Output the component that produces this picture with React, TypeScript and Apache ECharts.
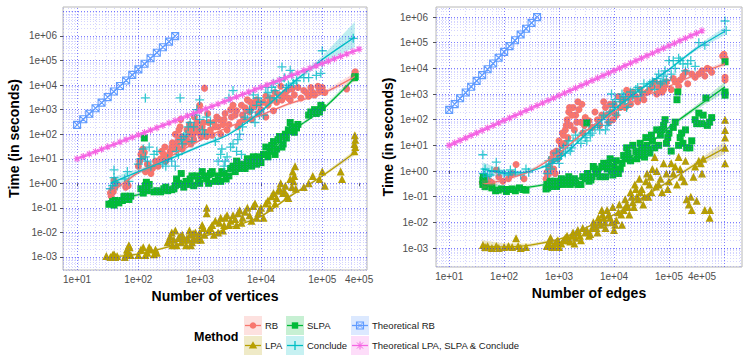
import React, { useEffect, useRef } from "react";
import * as echarts from "echarts";

type P = [number, number];
type F = [number, number, number, number]; // x, fit, lower, upper

const COLORS = {
  RB: "#F8766D",
  LPA: "#B79F00",
  SLPA: "#00BA38",
  Conclude: "#00BFC4",
  TRB: "#619CFF",
  TLPA: "#F564E3",
};

const xTickValues = [10, 100, 1000, 10000, 100000, 400000];
const yTickValues = [0.001, 0.01, 0.1, 1, 10, 100, 1000, 10000, 100000, 1000000];

const legendLabels = ["RB", "SLPA", "Theoretical RB", "LPA", "Conclude", "Theoretical LPA, SLPA & Conclude"];

const theoreticalRb: P[] = [
  [10, 240], [12.6, 404], [15.8, 679], [20, 1143], [25.1, 1923], [31.6, 3236], [39.8, 5445], [50.1, 9162],
  [63.1, 15420], [79.4, 25940], [100, 43650], [126, 73450], [158, 123600], [200, 208000], [251, 349900],
  [316, 588800], [398, 990800],
];

const theoreticalLpa: P[] = [
  [10, 10], [12.6, 12.5], [15.8, 15.6], [20, 19.5], [25.1, 24.4], [31.6, 30.5], [39.8, 38.2], [50.1, 47.8],
  [63.1, 59.7], [79.4, 74.6], [100, 93.3], [126, 116.7], [158, 145.9], [200, 182.4], [251, 228], [316, 285],
  [398, 356], [501, 446], [631, 557], [794, 697], [1000, 871], [1259, 1089], [1585, 1361], [1995, 1702],
  [2512, 2128], [3162, 2661], [3981, 3327], [5012, 4159], [6310, 5200], [7943, 6501], [10000, 8128],
  [12590, 10160], [15850, 12710], [19950, 15890], [25120, 19860], [31620, 24830], [39810, 31050],
  [50120, 38820], [63100, 48530], [79430, 60670], [100000, 75860], [125900, 94840], [158500, 118600],
  [199500, 148300], [251200, 185400], [316200, 231700], [398100, 289700],
];

// ---------- Number of vertices panel ----------
const rbVertices: P[] = [
  [35, 0.4], [36, 0.3], [37, 0.55], [39, 0.45], [40, 1.3], [41, 0.7], [42, 1.0], [45, 0.9], [62, 0.7], [65, 1.0], [68, 0.8],
  [100, 5], [105, 8], [110, 15], [115, 20], [118, 25], [120, 12], [125, 18], [130, 3], [140, 6], [150, 3.5], [160, 2.5], [170, 4],
  [190, 8], [210, 5], [230, 10], [240, 20], [260, 15], [270, 30], [280, 8], [300, 12], [320, 15], [330, 20], [350, 30],
  [360, 45], [380, 25], [400, 100], [420, 40], [430, 30], [450, 60], [460, 150], [480, 200],
  [490, 400], [500, 80], [520, 25], [550, 40], [600, 70], [620, 150], [650, 50], [680, 250], [700, 100], [720, 40],
  [750, 150], [780, 90], [800, 60], [820, 500], [850, 200], [880, 150],
  [900, 300], [950, 120], [1000, 1000], [1000, 1500], [1050, 80], [1100, 200], [1150, 300], [1200, 7500], [1250, 120],
  [1300, 80], [1350, 700], [1400, 300], [1500, 150], [1600, 90], [1700, 300], [1800, 200], [1900, 500], [2000, 200],
  [2100, 400], [2200, 100], [2400, 250], [2500, 400], [2600, 700], [2800, 150],
  [3000, 250], [3200, 1000], [3300, 500], [3500, 1500], [3800, 600], [4000, 900], [4200, 200], [4500, 300],
  [4800, 1500], [5000, 600], [5200, 400], [5500, 1200], [5800, 900],
  [6000, 2500], [6500, 800], [6800, 2000], [7000, 400], [7200, 1200], [7500, 1800], [8000, 1500], [8500, 2500],
  [9000, 700], [9500, 1800], [10000, 1000], [11000, 2000],
  [12000, 500], [12000, 3500], [13000, 1500], [14000, 2200], [15000, 3000], [16000, 900], [17000, 5000],
  [18000, 2000], [20000, 4000], [21000, 9000], [22000, 2500], [24000, 3500], [25000, 5000], [27000, 6000],
  [28000, 3000], [30000, 2500], [32000, 7000], [35000, 4000], [40000, 8000], [45000, 3000], [50000, 6000],
  [55000, 5000], [60000, 3500], [65000, 8000], [70000, 5000], [75000, 4000], [85000, 9000], [90000, 6000],
  [100000, 8000], [110000, 5000], [250000, 7000], [330000, 20000], [340000, 30000], [345000, 35000],
];

const lpaVertices: P[] = [
  [30, 0.0011], [35, 0.001], [38, 0.0012], [40, 0.0013], [42, 0.001], [45, 0.0011], [60, 0.001], [62, 0.0012],
  [65, 0.002], [68, 0.0015], [70, 0.003], [72, 0.0025], [75, 0.0012], [100, 0.0012], [110, 0.002], [120, 0.0025],
  [130, 0.0012], [140, 0.0015], [150, 0.0025], [160, 0.002], [180, 0.0013], [190, 0.002], [200, 0.0015],
  [300, 0.004], [320, 0.005], [330, 0.007], [350, 0.01], [360, 0.003], [380, 0.005], [400, 0.012], [420, 0.003],
  [450, 0.006], [480, 0.007], [500, 0.004], [520, 0.008], [550, 0.005], [600, 0.003], [620, 0.006], [650, 0.005],
  [680, 0.012], [700, 0.008], [720, 0.003], [750, 0.004], [780, 0.009], [800, 0.006], [850, 0.01], [900, 0.005],
  [950, 0.007], [1000, 0.01], [1050, 0.005], [1100, 0.02], [1150, 0.015], [1200, 0.008], [1300, 0.1],
  [1300, 0.06], [1400, 0.012], [1500, 0.015], [1600, 0.02], [1700, 0.008], [1800, 0.03], [2000, 0.01],
  [2100, 0.025], [2200, 0.04], [2400, 0.012], [2500, 0.02], [2600, 0.04], [2800, 0.05], [3000, 0.02],
  [3200, 0.03], [3500, 0.05], [3800, 0.035], [4000, 0.02], [4200, 0.06], [4500, 0.08], [4800, 0.025],
  [5000, 0.04], [5500, 0.07], [6000, 0.1], [6500, 0.05], [7000, 0.03], [7500, 0.12], [8000, 0.15],
  [8500, 0.04], [9000, 0.06], [9500, 0.08], [10000, 0.1], [11000, 0.04], [12000, 0.15], [13000, 0.2],
  [14000, 0.1], [15000, 0.3], [16000, 0.4], [17000, 0.15], [18000, 0.25], [19000, 0.5], [20000, 0.6],
  [21000, 1], [23000, 0.4], [24000, 0.5], [25000, 0.8], [27000, 0.3], [28000, 0.25], [30000, 1.5],
  [32000, 0.7], [33000, 3], [34000, 1.2], [35000, 2], [36000, 5], [37000, 0.6], [50000, 0.7], [60000, 1],
  [70000, 2], [90000, 1.5], [100000, 3], [110000, 0.8], [200000, 3], [210000, 1.5], [335000, 20],
  [335000, 40], [340000, 90], [345000, 60], [345000, 30],
];

const slpaVertices: P[] = [
  [33, 0.14], [36, 0.15], [38, 0.18], [40, 0.13], [42, 0.2], [45, 0.17], [48, 0.16], [55, 0.2], [58, 0.28],
  [60, 0.3], [65, 0.25], [70, 0.22], [75, 0.3], [110, 0.6], [120, 0.4], [125, 70], [130, 0.8], [135, 1.1],
  [140, 0.5], [150, 0.9], [180, 0.45], [200, 0.5], [230, 0.45], [260, 0.6], [280, 0.7], [300, 0.5], [350, 0.55],
  [380, 0.6], [400, 0.8], [420, 1.5], [450, 1.0], [480, 0.9], [500, 2.5], [550, 0.7], [600, 1.2], [650, 0.9],
  [700, 1.5], [750, 2], [800, 0.8], [900, 2], [950, 1.5], [1000, 1.0], [1100, 3], [1200, 2], [1300, 1.5],
  [1400, 1], [1500, 2.5], [1600, 3], [1800, 1.2], [2000, 2], [2200, 1.2], [2300, 3], [2500, 2.5], [2700, 1.5],
  [3000, 2], [3200, 4], [3500, 5], [3800, 3], [4000, 8], [4200, 6], [4500, 4], [5000, 6], [5500, 4], [6000, 10],
  [6500, 7], [7000, 5], [7500, 12], [8000, 8], [8500, 6], [9000, 12], [9500, 9], [10000, 7], [11000, 15],
  [12000, 30], [13000, 12], [14000, 20], [15000, 35], [16000, 50], [17000, 15], [18000, 25], [19000, 60],
  [20000, 80], [22000, 30], [23000, 40], [25000, 100], [26000, 70], [28000, 150], [30000, 300], [32000, 200],
  [33000, 130], [35000, 120], [38000, 180], [40000, 250], [60000, 600], [65000, 800], [75000, 1000],
  [80000, 700], [90000, 800], [95000, 1500], [100000, 1200], [335000, 20000], [345000, 22000],
];

const concludeVertices: P[] = [
  [35, 0.6], [38, 0.8], [40, 3.5], [40, 1.7], [42, 1.1], [45, 0.8], [60, 1.5], [66, 3], [70, 1.2], [100, 6],
  [110, 10], [120, 25], [130, 3000], [130, 12], [140, 8], [150, 30], [160, 5], [180, 15], [200, 20], [250, 6],
  [280, 5], [300, 10], [350, 8], [400, 5], [420, 20], [450, 15], [480, 3000], [500, 60], [520, 40], [550, 80],
  [600, 100], [650, 200], [700, 300], [750, 50], [800, 200], [850, 600], [900, 1000], [1000, 2500], [1000, 400],
  [1100, 150], [1200, 100], [1300, 500], [1500, 300], [1800, 50], [2000, 8], [2200, 15], [2300, 25], [2500, 5],
  [2600, 8], [2800, 12], [3000, 3000], [3200, 30], [3500, 6000], [3500, 40], [4000, 20], [4200, 60], [4500, 100],
  [4800, 15], [5000, 200], [5500, 500], [6000, 400], [6500, 1000], [7000, 800], [7500, 4000], [8000, 300],
  [8500, 1500], [9000, 3000], [9500, 600], [10000, 2000], [11000, 600], [12000, 8000], [13000, 5000],
  [14000, 3000], [15000, 8000], [16000, 12000], [17000, 6000], [18000, 3000], [20000, 15000], [22000, 55000],
  [24000, 20000], [26000, 8000], [28000, 10000], [30000, 40000], [32000, 25000], [34000, 12000], [38000, 15000],
  [50000, 20000], [60000, 20000], [80000, 25000], [95000, 30000], [100000, 250000], [100000, 80000],
  [320000, 800000],
];

const rbVerticesFit: F[] = [
  [35, 0.45, 0.33, 0.62], [60, 1.1, 0.9, 1.35], [100, 2.8, 2.4, 3.3], [300, 11, 9.5, 12.5], [1000, 55, 49, 62],
  [3000, 200, 180, 225], [10000, 600, 540, 670], [30000, 1800, 1600, 2050], [100000, 4500, 3900, 5200],
  [340000, 22000, 15000, 32000],
];
const lpaVerticesFit: F[] = [
  [35, 0.001, 0.0009, 0.00115], [100, 0.0013, 0.0012, 0.0015], [300, 0.0025, 0.0023, 0.0028],
  [1000, 0.006, 0.0055, 0.0066], [3000, 0.015, 0.0137, 0.0165], [10000, 0.045, 0.041, 0.05],
  [30000, 0.3, 0.27, 0.34], [100000, 2, 1.75, 2.3], [340000, 18, 14, 23],
];
const slpaVerticesFit: F[] = [
  [33, 0.17, 0.14, 0.21], [100, 0.35, 0.3, 0.4], [300, 0.6, 0.53, 0.68], [1000, 1.2, 1.05, 1.35],
  [3000, 3.5, 3.1, 3.9], [10000, 10, 9, 11.2], [30000, 120, 105, 138], [100000, 1000, 850, 1180],
  [340000, 20000, 16000, 25000],
];
const concludeVerticesFit: F[] = [
  [35, 1.0, 0.6, 1.7], [100, 3, 2.4, 3.8], [300, 9, 7.8, 10.5], [1000, 32, 28, 37], [3000, 100, 88, 115],
  [10000, 850, 720, 1000], [30000, 10000, 8300, 12000], [100000, 110000, 80000, 150000],
  [340000, 900000, 350000, 3800000],
];

// ---------- Number of edges panel ----------
const rbEdges: P[] = [
  [40, 0.35], [42, 0.45], [45, 0.3], [48, 0.5], [55, 0.4], [60, 0.35], [72, 1.1], [80, 0.6], [95, 0.4], [120, 0.5],
  [140, 0.8], [165, 1.8], [230, 0.5], [580, 0.5], [600, 0.9], [620, 0.7], [650, 1.5], [680, 1.2], [700, 0.9],
  [720, 3], [750, 2.5], [780, 5], [800, 1.2], [850, 0.8], [900, 6], [950, 3], [1000, 15], [1050, 5], [1100, 10],
  [1150, 30], [1200, 25], [1250, 12], [1300, 40], [1350, 60], [1400, 100], [1450, 20], [1500, 200], [1550, 300],
  [1600, 60], [1700, 150], [1800, 300], [1900, 40], [2000, 150], [2100, 80], [2200, 500], [2300, 250], [2500, 80],
  [2600, 400], [2700, 30], [2900, 60], [3000, 120], [3500, 90], [4000, 50], [4500, 200], [5000, 100], [5500, 60],
  [6000, 150], [6500, 500], [7000, 300], [7500, 150], [8000, 80], [8500, 400], [9000, 200], [9500, 100],
  [10000, 400], [11000, 150], [12000, 800], [13000, 300], [14000, 500], [15000, 600], [16000, 300], [17000, 1400],
  [18000, 1000], [19000, 700], [20000, 400], [22000, 1200], [25000, 800], [27000, 500], [30000, 1500],
  [33000, 1000], [35000, 600], [40000, 1200], [45000, 1500], [50000, 2000], [55000, 3000], [60000, 1000],
  [65000, 1800], [70000, 2500], [75000, 1200], [80000, 1500], [85000, 2200], [90000, 3000], [110000, 1500],
  [120000, 4000], [130000, 3000], [150000, 2000], [160000, 3500], [180000, 5000], [200000, 7000], [220000, 2500],
  [260000, 6000], [300000, 4500], [350000, 6000], [400000, 8000], [450000, 5000], [500000, 10000], [550000, 9000],
  [600000, 7000], [950000, 30000], [1000000, 35000], [1050000, 25000], [1050000, 3500], [1050000, 4500],
];

const lpaEdges: P[] = [
  [41, 0.0013], [45, 0.0011], [50, 0.0012], [60, 0.001], [72, 0.0012], [80, 0.001], [100, 0.0011],
  [120, 0.0012], [140, 0.0011], [165, 0.0024], [180, 0.0012], [200, 0.001], [250, 0.0011], [600, 0.0012],
  [620, 0.0013], [650, 0.0015], [680, 0.002], [700, 0.0025], [750, 0.0011], [800, 0.0012], [850, 0.0015],
  [900, 0.0018], [950, 0.002], [1000, 0.0011], [1100, 0.0015], [1200, 0.002], [1300, 0.0025], [1400, 0.003],
  [1500, 0.002], [1600, 0.0018], [1700, 0.003], [1800, 0.004], [1900, 0.0015], [2000, 0.0025], [2100, 0.004],
  [2200, 0.005], [2400, 0.003], [2500, 0.002], [2700, 0.006], [3000, 0.004], [3200, 0.005], [3500, 0.003],
  [3700, 0.0035], [4000, 0.006], [4200, 0.01], [4500, 0.008], [4800, 0.006], [5000, 0.004], [5200, 0.015],
  [5500, 0.01], [5800, 0.008], [6000, 0.03], [6200, 0.02], [6500, 0.015], [6800, 0.01], [7000, 0.006],
  [7500, 0.03], [8000, 0.02], [8500, 0.015], [9000, 0.01], [9500, 0.04], [10000, 0.005], [10500, 0.008],
  [11000, 0.012], [12000, 0.025], [12500, 0.05], [13500, 0.02], [14000, 0.008], [15000, 0.03], [16000, 0.08],
  [17000, 0.05], [18000, 0.04], [19000, 0.02], [20000, 0.15], [21000, 0.1], [22000, 0.06], [23000, 0.04],
  [24000, 0.3], [25000, 0.2], [26000, 0.1], [28000, 0.08], [29000, 0.5], [30000, 0.15], [32000, 0.2],
  [34000, 0.05], [36000, 0.1], [38000, 0.4], [40000, 0.8], [42000, 0.1], [44000, 0.3], [46000, 0.6],
  [48000, 0.15], [50000, 1.2], [55000, 3.5], [58000, 0.25], [60000, 1], [65000, 0.3], [70000, 0.5],
  [75000, 0.15], [80000, 2], [90000, 0.8], [95000, 0.2], [100000, 0.4], [110000, 2], [120000, 0.8],
  [130000, 1.5], [140000, 0.3], [150000, 3.5], [160000, 1.2], [170000, 0.6], [190000, 0.4], [200000, 2.5],
  [210000, 0.08], [230000, 0.05], [250000, 0.1], [260000, 0.03], [280000, 0.6], [300000, 1.5], [320000, 0.07],
  [350000, 2.5], [380000, 2], [400000, 0.8], [420000, 3], [450000, 0.03], [550000, 0.015], [560000, 0.03],
  [1050000, 100], [1050000, 40], [1050000, 20], [1050000, 8], [1050000, 2],
];

const slpaEdges: P[] = [
  [41, 0.3], [41, 0.45], [42, 0.6], [44, 0.35], [45, 0.25], [60, 0.22], [70, 0.17], [78, 0.18], [90, 0.2],
  [110, 0.16], [120, 0.19], [140, 0.2], [160, 0.17], [190, 0.22], [220, 0.19], [250, 0.18], [580, 0.2],
  [600, 0.3], [620, 0.22], [650, 0.25], [680, 0.35], [700, 0.4], [750, 0.25], [800, 0.3], [850, 0.4], [900, 0.25],
  [950, 0.3], [1000, 0.35], [1100, 0.5], [1200, 0.3], [1300, 0.35], [1400, 0.45], [1500, 0.6], [1600, 0.3],
  [1700, 0.4], [1800, 0.4], [1900, 0.5], [2000, 0.35], [2200, 0.3], [2500, 0.3], [2700, 0.6], [3000, 0.5],
  [3200, 75], [3300, 0.8], [3500, 0.4], [3800, 0.45], [4000, 0.6], [4200, 1.5], [4500, 1.2], [4800, 1],
  [5000, 0.8], [5500, 0.6], [6000, 1.5], [6500, 2], [7000, 0.6], [7500, 1.2], [8000, 2], [8500, 3], [9000, 1],
  [9500, 0.7], [10000, 1.5], [11000, 2.5], [12000, 0.8], [13000, 1.2], [14000, 2], [15000, 4], [16000, 3],
  [17000, 8], [18000, 5], [19000, 3], [20000, 2.5], [22000, 10], [25000, 6], [26000, 3], [28000, 4], [30000, 12],
  [32000, 8], [34000, 5], [36000, 3.5], [38000, 20], [40000, 10], [42000, 7], [45000, 5], [48000, 25],
  [50000, 15], [55000, 8], [60000, 40], [65000, 10], [70000, 25], [75000, 40], [80000, 60], [85000, 100],
  [90000, 12], [95000, 20], [100000, 30], [110000, 6], [120000, 50], [130000, 80], [140000, 600], [145000, 1200],
  [150000, 10], [160000, 20], [170000, 30], [180000, 12], [200000, 40], [210000, 8], [240000, 8], [260000, 15],
  [300000, 100], [320000, 70], [350000, 180], [400000, 70], [420000, 150], [470000, 700], [500000, 60],
  [550000, 80], [600000, 120], [1050000, 18000], [1050000, 900], [1050000, 1200],
];

const concludeEdges: P[] = [
  [41, 4.3], [42, 0.8], [45, 1.2], [50, 0.6], [55, 0.7], [60, 1.0], [72, 2.2], [80, 1.0], [100, 0.8], [120, 0.7],
  [130, 1.1], [160, 0.9], [200, 0.7], [250, 1.2], [280, 0.9], [580, 1.5], [620, 0.8], [650, 2.5], [700, 1.2],
  [750, 2], [800, 3], [900, 5], [950, 3], [1000, 2], [1050, 6], [1100, 4], [1200, 8], [1300, 5], [1400, 10],
  [1500, 15], [1600, 6], [1700, 8], [1800, 15], [2000, 25], [2200, 18], [2500, 12], [2700, 30], [3000, 20],
  [3200, 15], [3500, 40], [3700, 25], [4000, 30], [4500, 50], [5000, 60], [5500, 40], [6000, 100], [6500, 150],
  [7000, 40], [7500, 60], [8000, 80], [8500, 200], [9000, 1000], [9500, 400], [10000, 300], [10500, 600],
  [11000, 150], [12000, 250], [13000, 500], [14000, 1000], [15000, 800], [16000, 600], [17000, 300],
  [18000, 400], [20000, 1200], [22000, 800], [25000, 1500], [27000, 1800], [30000, 800], [32000, 1200],
  [35000, 2500], [40000, 2000], [45000, 2500], [50000, 3000], [55000, 1500], [60000, 4000], [65000, 6000],
  [70000, 2500], [75000, 3000], [80000, 5000], [85000, 8000], [90000, 3500], [100000, 20000], [110000, 6000],
  [120000, 20000], [130000, 10000], [150000, 25000], [160000, 20000], [180000, 15000], [200000, 8000],
  [220000, 15000], [250000, 20000], [300000, 12000], [350000, 100000], [450000, 80000], [1050000, 700000],
  [1100000, 300000],
];

const rbEdgesFit: F[] = [
  [40, 0.3, 0.2, 0.45], [100, 0.45, 0.37, 0.55], [300, 1.0, 0.88, 1.15], [1000, 5, 4.5, 5.6],
  [3000, 35, 31, 39], [10000, 200, 180, 222], [30000, 700, 630, 780], [100000, 2000, 1800, 2250],
  [300000, 5500, 4800, 6300], [1050000, 15000, 12000, 19000],
];
const lpaEdgesFit: F[] = [
  [40, 0.0012, 0.0007, 0.002], [100, 0.0011, 0.0008, 0.0015], [300, 0.0013, 0.0011, 0.0015],
  [1000, 0.0022, 0.002, 0.0024], [3000, 0.006, 0.0055, 0.0066], [10000, 0.02, 0.018, 0.022],
  [30000, 0.08, 0.072, 0.089], [100000, 0.4, 0.35, 0.46], [300000, 1.8, 1.5, 2.2], [1050000, 8, 4.5, 14],
];
const slpaEdgesFit: F[] = [
  [40, 0.3, 0.17, 0.5], [100, 0.2, 0.16, 0.25], [300, 0.24, 0.21, 0.27], [1000, 0.38, 0.34, 0.42],
  [3000, 0.6, 0.54, 0.67], [10000, 1.8, 1.6, 2.0], [30000, 6, 5.3, 6.8], [100000, 50, 43, 58],
  [300000, 280, 230, 340], [1050000, 1900, 1200, 3000],
];
const concludeEdgesFit: F[] = [
  [40, 1.2, 0.65, 2.2], [100, 0.85, 0.65, 1.1], [200, 0.85, 0.7, 1.02], [500, 1.4, 1.25, 1.6],
  [1000, 3, 2.7, 3.3], [3000, 25, 22, 28], [10000, 250, 225, 280], [30000, 1500, 1350, 1670],
  [100000, 9000, 8000, 10200], [300000, 55000, 46000, 66000], [1050000, 280000, 200000, 420000],
];

// ---------- helpers ----------
const L = (v: number) => Math.log10(v);
const FONT = '"Liberation Sans", Arial, Helvetica, sans-serif';

function rgba(hex: string, a: number) {
  const n = parseInt(hex.slice(1), 16);
  return `rgba(${(n >> 16) & 255},${(n >> 8) & 255},${n & 255},${a})`;
}

function fmtLog(lv: number) {
  const e = Math.floor(lv + 1e-6);
  const m = Math.round(Math.pow(10, lv - e));
  const s = e < 0 ? "-" : "+";
  return `${m}e${s}${String(Math.abs(e)).padStart(2, "0")}`;
}

const PLUS = "path://M0,5L10,5M5,0L5,10";
const BOXCROSS = "path://M0,0L10,0L10,10L0,10Z M0,0L10,10 M10,0L0,10";
const ASTERISK = "path://M0,5L10,5M5,0L5,10M1.5,1.5L8.5,8.5M8.5,1.5L1.5,8.5";

function gridLineSeries(g: number, xr: number[], yr: number[]) {
  const major = "rgba(40,40,255,0.6)";
  const minor = "rgba(90,90,255,0.26)";
  const items: any[] = [];
  for (let k = Math.floor(xr[0]); k <= Math.ceil(xr[1]); k++) {
    for (let m = 1; m <= 9; m++) {
      const v = k + Math.log10(m);
      if (v <= xr[0] || v >= xr[1]) continue;
      items.push({ xAxis: v, lineStyle: { color: m === 1 ? major : minor, type: [1, 2], width: 1 } });
    }
  }
  for (let k = Math.floor(yr[0]); k <= Math.ceil(yr[1]); k++) {
    for (let m = 1; m <= 9; m++) {
      const v = k + Math.log10(m);
      if (v <= yr[0] || v >= yr[1]) continue;
      items.push({ yAxis: v, lineStyle: { color: m === 1 ? major : minor, type: [1, 2], width: 1 } });
    }
  }
  return {
    type: "line",
    xAxisIndex: g,
    yAxisIndex: g,
    data: [[xr[0] + 0.5, yr[0] + 0.5]],
    symbol: "none",
    silent: true,
    z: 1,
    lineStyle: { opacity: 0 },
    markLine: {
      silent: true,
      symbol: ["none", "none"],
      label: { show: false },
      emphasis: { disabled: true },
      animation: false,
      data: items,
    },
  };
}

function scatter(g: number, data: P[], symbol: string, size: number, color: string, stroke: boolean) {
  return {
    type: "scatter",
    xAxisIndex: g,
    yAxisIndex: g,
    data: data.map(([x, y]) => [L(x), L(y)]),
    symbol,
    symbolSize: size,
    z: 2,
    itemStyle: stroke
      ? { color: "transparent", borderColor: color, borderWidth: 1.3 }
      : { color, opacity: 1 },
  };
}

function band(g: number, fit: F[], color: string) {
  return {
    type: "custom",
    xAxisIndex: g,
    yAxisIndex: g,
    silent: true,
    z: 3,
    data: fit.map((r) => [L(r[0]), L(r[1])]),
    renderItem: (params: any, api: any) => {
      if (params.dataIndex !== 0) return null;
      const pts: number[][] = [];
      fit.forEach((r) => pts.push(api.coord([L(r[0]), L(r[3])])));
      for (let i = fit.length - 1; i >= 0; i--) pts.push(api.coord([L(fit[i][0]), L(fit[i][2])]));
      return { type: "polygon", shape: { points: pts }, style: { fill: rgba(color, 0.25) } };
    },
  };
}

function fitLine(g: number, fit: F[], color: string) {
  return {
    type: "line",
    xAxisIndex: g,
    yAxisIndex: g,
    data: fit.map((r) => [L(r[0]), L(r[1])]),
    symbol: "none",
    smooth: 0.3,
    silent: true,
    z: 4,
    lineStyle: { color, width: 1.3 },
  };
}

function theoLine(g: number, data: P[], symbol: string, color: string, size: number) {
  return {
    type: "line",
    xAxisIndex: g,
    yAxisIndex: g,
    data: data.map(([x, y]) => [L(x), L(y)]),
    symbol,
    symbolSize: size,
    showSymbol: true,
    silent: true,
    z: 5,
    lineStyle: { color, width: 1.3 },
    itemStyle: { color: "transparent", borderColor: color, borderWidth: 1.1 },
  };
}

function panelSeries(
  g: number,
  xr: number[],
  yr: number[],
  pts: { rb: P[]; lpa: P[]; slpa: P[]; conc: P[] },
  fits: { rb: F[]; lpa: F[]; slpa: F[]; conc: F[] }
) {
  return [
    gridLineSeries(g, xr, yr),
    scatter(g, pts.rb, "circle", 7, COLORS.RB, false),
    scatter(g, pts.lpa, "triangle", 8, COLORS.LPA, false),
    scatter(g, pts.slpa, "rect", 7, COLORS.SLPA, false),
    scatter(g, pts.conc, PLUS, 9, COLORS.Conclude, true),
    band(g, fits.rb, COLORS.RB),
    band(g, fits.lpa, COLORS.LPA),
    band(g, fits.slpa, COLORS.SLPA),
    band(g, fits.conc, COLORS.Conclude),
    fitLine(g, fits.rb, COLORS.RB),
    fitLine(g, fits.lpa, COLORS.LPA),
    fitLine(g, fits.slpa, COLORS.SLPA),
    fitLine(g, fits.conc, COLORS.Conclude),
    theoLine(g, theoreticalRb, BOXCROSS, COLORS.TRB, 7),
    theoLine(g, theoreticalLpa, ASTERISK, COLORS.TLPA, 7),
  ];
}

function xAxis(g: number, range: number[], name: string, gap: number) {
  const ticks = xTickValues.map(L);
  return {
    type: "value",
    gridIndex: g,
    min: range[0],
    max: range[1],
    name,
    nameLocation: "middle",
    nameGap: gap,
    nameTextStyle: { fontFamily: FONT, fontSize: 14, fontWeight: "bold", color: "#000" },
    axisLine: { show: false },
    axisTick: { show: true, length: 3, customValues: ticks, lineStyle: { color: "#555" } },
    axisLabel: {
      customValues: ticks,
      formatter: (v: number) => fmtLog(v),
      fontFamily: FONT,
      fontSize: 10,
      color: "#4d4d4d",
      margin: 4,
      hideOverlap: false,
    },
    splitLine: { show: false },
  };
}

function yAxis(g: number, range: number[], gap: number, margin: number) {
  const ticks = yTickValues.map(L);
  return {
    type: "value",
    gridIndex: g,
    min: range[0],
    max: range[1],
    name: "Time (in seconds)",
    nameLocation: "middle",
    nameGap: gap,
    nameTextStyle: { fontFamily: FONT, fontSize: 14, fontWeight: "bold", color: "#000" },
    axisLine: { show: false },
    axisTick: { show: true, length: 3, customValues: ticks, lineStyle: { color: "#555" } },
    axisLabel: {
      customValues: ticks,
      formatter: (v: number) => fmtLog(v),
      fontFamily: FONT,
      fontSize: 10,
      color: "#4d4d4d",
      margin,
      hideOverlap: false,
    },
    splitLine: { show: false },
  };
}

function legendGraphic() {
  const cols = [244, 286, 351];
  const rows = [316, 336];
  const colorsByItem = [COLORS.RB, COLORS.SLPA, COLORS.TRB, COLORS.LPA, COLORS.Conclude, COLORS.TLPA];
  const kinds = ["circle", "rect", "boxcross", "triangle", "plus", "asterisk"];
  const els: any[] = [
    {
      type: "text",
      x: 194,
      y: 337,
      style: { text: "Method", font: `bold 12.5px ${FONT}`, fill: "#000", verticalAlign: "middle", align: "left" },
    },
  ];
  legendLabels.forEach((label, i) => {
    const bx = cols[i % 3];
    const by = rows[Math.floor(i / 3)];
    const c = colorsByItem[i];
    const cx = bx + 9;
    const cy = by + 9.5;
    els.push({ type: "rect", shape: { x: bx, y: by, width: 18, height: 19 }, style: { fill: rgba(c, 0.22) } });
    els.push({ type: "line", shape: { x1: bx + 1, y1: cy, x2: bx + 17, y2: cy }, style: { stroke: c, lineWidth: 1.3 } });
    const k = kinds[i];
    if (k === "circle") els.push({ type: "circle", shape: { cx, cy, r: 3.3 }, style: { fill: c } });
    if (k === "rect") els.push({ type: "rect", shape: { x: cx - 3.2, y: cy - 3.2, width: 6.4, height: 6.4 }, style: { fill: c } });
    if (k === "triangle")
      els.push({ type: "polygon", shape: { points: [[cx, cy - 4.2], [cx + 4.2, cy + 3], [cx - 4.2, cy + 3]] }, style: { fill: c } });
    if (k === "plus") {
      els.push({ type: "line", shape: { x1: cx, y1: cy - 4.5, x2: cx, y2: cy + 4.5 }, style: { stroke: c, lineWidth: 1.3 } });
    }
    if (k === "boxcross") {
      els.push({ type: "rect", shape: { x: cx - 3.5, y: cy - 3.5, width: 7, height: 7 }, style: { fill: "none", stroke: c, lineWidth: 1.1 } });
      els.push({ type: "line", shape: { x1: cx - 3.5, y1: cy - 3.5, x2: cx + 3.5, y2: cy + 3.5 }, style: { stroke: c, lineWidth: 1 } });
      els.push({ type: "line", shape: { x1: cx + 3.5, y1: cy - 3.5, x2: cx - 3.5, y2: cy + 3.5 }, style: { stroke: c, lineWidth: 1 } });
    }
    if (k === "asterisk") {
      els.push({ type: "line", shape: { x1: cx, y1: cy - 4, x2: cx, y2: cy + 4 }, style: { stroke: c, lineWidth: 1 } });
      els.push({ type: "line", shape: { x1: cx - 3, y1: cy - 3, x2: cx + 3, y2: cy + 3 }, style: { stroke: c, lineWidth: 1 } });
      els.push({ type: "line", shape: { x1: cx + 3, y1: cy - 3, x2: cx - 3, y2: cy + 3 }, style: { stroke: c, lineWidth: 1 } });
    }
    els.push({
      type: "text",
      x: bx + 21,
      y: cy,
      style: { text: label, font: `9.5px ${FONT}`, fill: "#1a1a1a", verticalAlign: "middle", align: "left" },
    });
  });
  return els;
}

export default function App() {
  const ref = useRef<HTMLDivElement>(null);
  useEffect(() => {
    if (!ref.current) return;
    const chart = echarts.init(ref.current, undefined, { renderer: "svg" });
    const xrV = [0.77, 5.73];
    const yrV = [-3.53, 7.18];
    const xrE = [0.76, 6.33];
    const yrE = [-3.74, 6.39];
    const option: any = {
      animation: false,
      backgroundColor: "#fff",
      grid: [
        { left: 63, top: 7, width: 304, height: 263, show: true, borderColor: "#b8b8b8", borderWidth: 1, backgroundColor: "#fff" },
        { left: 436, top: 7, width: 306, height: 260, show: true, borderColor: "#b8b8b8", borderWidth: 1, backgroundColor: "#fff" },
      ],
      xAxis: [xAxis(0, xrV, "Number of vertices", 19), xAxis(1, xrE, "Number of edges", 17)],
      yAxis: [yAxis(0, yrV, 42, 6), yAxis(1, yrE, 41, 8)],
      series: [
        ...panelSeries(
          0,
          xrV,
          yrV,
          { rb: rbVertices, lpa: lpaVertices, slpa: slpaVertices, conc: concludeVertices },
          { rb: rbVerticesFit, lpa: lpaVerticesFit, slpa: slpaVerticesFit, conc: concludeVerticesFit }
        ),
        ...panelSeries(
          1,
          xrE,
          yrE,
          { rb: rbEdges, lpa: lpaEdges, slpa: slpaEdges, conc: concludeEdges },
          { rb: rbEdgesFit, lpa: lpaEdgesFit, slpa: slpaEdgesFit, conc: concludeEdgesFit }
        ),
      ],
      graphic: legendGraphic(),
    };
    chart.setOption(option);
    return () => chart.dispose();
  }, []);
  return <div ref={ref} style={{ position: "absolute", left: 0, top: 0, width: 747, height: 363 }} />;
}
